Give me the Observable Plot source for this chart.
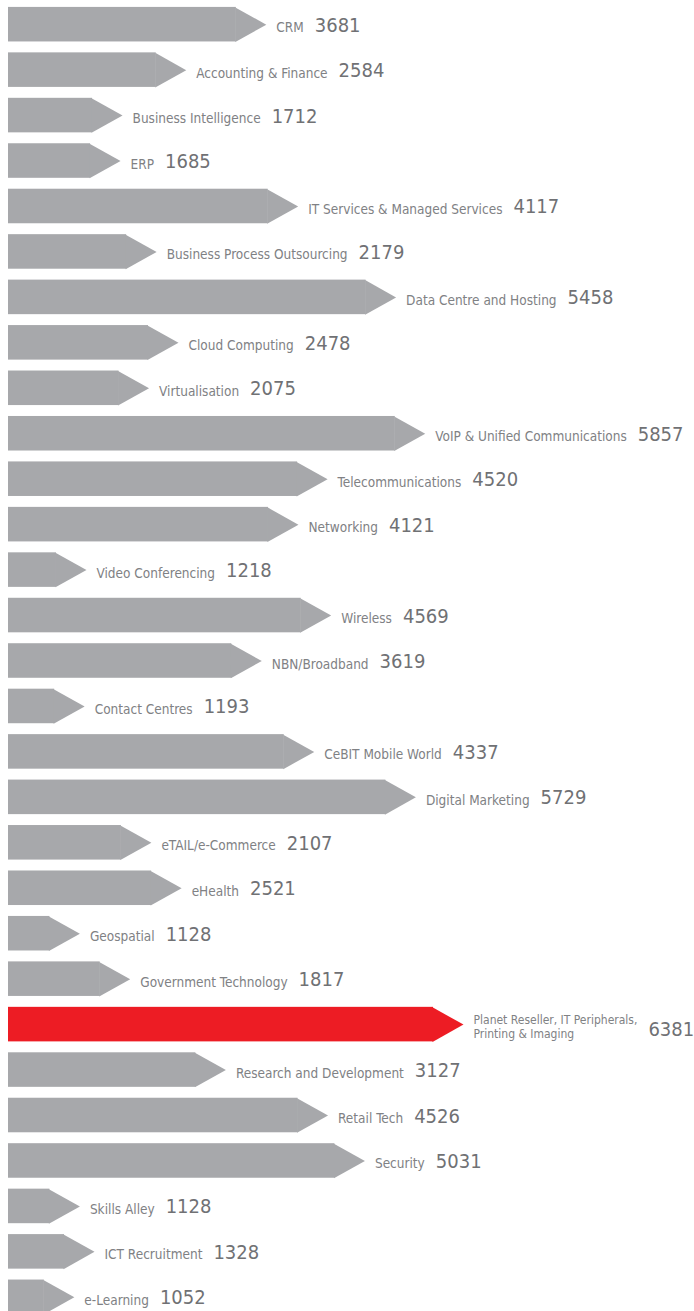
<!DOCTYPE html>
<html>
<head>
<meta charset="utf-8">
<script src="https://cdn.jsdelivr.net/npm/d3@7"></script>
<script src="https://cdn.jsdelivr.net/npm/@observablehq/plot@0.6"></script>
<style>
  html, body { margin: 0; padding: 0; background: #fff; }
  #chart { width: 694px; height: 1311px; overflow: hidden; }
</style>
</head>
<body>
<div id="chart"></div>
<script>
// ---- data ----
const names = [
  "CRM", "Accounting & Finance", "Business Intelligence", "ERP",
  "IT Services & Managed Services", "Business Process Outsourcing",
  "Data Centre and Hosting", "Cloud Computing", "Virtualisation",
  "VoIP & Unified Communications", "Telecommunications", "Networking",
  "Video Conferencing", "Wireless", "NBN/Broadband", "Contact Centres",
  "CeBIT Mobile World", "Digital Marketing", "eTAIL/e-Commerce", "eHealth",
  "Geospatial", "Government Technology",
  "Planet Reseller, IT Peripherals,\nPrinting & Imaging",
  "Research and Development", "Retail Tech", "Security", "Skills Alley",
  "ICT Recruitment", "e-Learning"
];
const values = [
  3681, 2584, 1712, 1685, 4117, 2179, 5458, 2478, 2075, 5857, 4520, 4121,
  1218, 4569, 3619, 1193, 4337, 5729, 2107, 2521, 1128, 1817, 6381, 3127,
  4526, 5031, 1128, 1328, 1052
];
const highlight = "Planet Reseller, IT Peripherals,\nPrinting & Imaging";

// ---- style / layout settings ----
const W = 694, H = 1311;
const grey = "#a7a8ab", red = "#ed1c24";
const labelColor = "#808184", numberColor = "#707174";
const font = "'Liberation Sans Narrow', 'Arial Narrow', 'DejaVu Sans Condensed', sans-serif";
const labelSize = 13.5, multiLabelSize = 12, numberSize = 20;
const xStart = 561;              // scale baseline (left edge of bars)
const xRange = [8, 433];
const yRange = [-4, 1325];
const yPad = 0.24;
const arrowW = 30;
const labelDx = arrowW + 10;
const numberGap = 11;

const rows = names.map((name, i) => ({name, value: values[i], hi: name === highlight}));
const bandH = d3.scaleBand().domain(names).range(yRange).padding(yPad).bandwidth();

// arrow-head symbol: flat side at the bar end (slight overlap to avoid a seam), tip pointing right
const arrowHead = {
  draw(ctx) {
    ctx.moveTo(-1, -bandH / 2);
    ctx.lineTo(arrowW, 0);
    ctx.lineTo(-1, bandH / 2);
    ctx.closePath();
  }
};

// text measuring for number placement
const mctx = document.createElement("canvas").getContext("2d");
function textW(s, size) {
  mctx.font = `${size}px ${font}`;
  return d3.max(s.split("\n"), l => mctx.measureText(l).width);
}

const single = rows.filter(r => !r.name.includes("\n"));
const multi = rows.filter(r => r.name.includes("\n"));

const numberMarks = rows.map(r => {
  const multiLine = r.name.includes("\n");
  const w = textW(r.name, multiLine ? multiLabelSize : labelSize);
  return Plot.text([r], {
    x: "value", y: "name", text: d => String(d.value),
    dx: labelDx + w + numberGap, dy: multiLine ? 11 : 7,
    textAnchor: "start", lineAnchor: "bottom",
    fontSize: numberSize, fill: numberColor, fontFamily: font
  });
});

const chart = Plot.plot({
  width: W, height: H,
  marginTop: 0, marginBottom: 0, marginLeft: 0, marginRight: 0,
  x: {domain: [xStart, d3.max(values)], range: xRange, axis: null},
  y: {domain: names, range: yRange, padding: yPad, round: false, axis: null},
  color: {type: "identity"},
  style: {fontFamily: font, background: "#fff"},
  marks: [
    Plot.barX(rows, {x1: xStart, x2: "value", y: "name", fill: d => d.hi ? red : grey}),
    Plot.dot(rows, {x: "value", y: "name", symbol: arrowHead, r: 10, stroke: "none",
                    fill: d => d.hi ? red : grey}),
    Plot.text(single, {x: "value", y: "name", text: "name", dx: labelDx, dy: 7.5,
                       textAnchor: "start", lineAnchor: "bottom",
                       fontSize: labelSize, fill: labelColor, fontFamily: font}),
    Plot.text(multi, {x: "value", y: "name", text: "name", dx: labelDx, dy: 13,
                      textAnchor: "start", lineAnchor: "bottom", lineHeight: 1.15,
                      fontSize: multiLabelSize, fill: labelColor, fontFamily: font}),
    ...numberMarks
  ]
});
document.getElementById("chart").appendChild(chart);
</script>
</body>
</html>
